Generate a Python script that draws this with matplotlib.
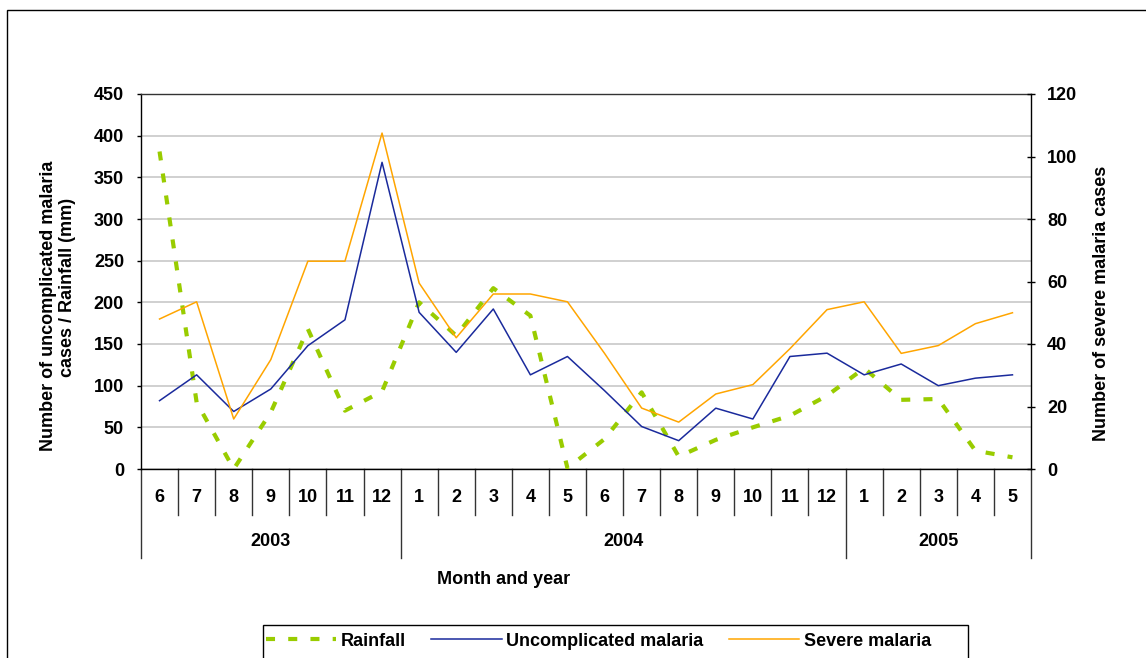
import matplotlib
matplotlib.use("Agg")
import matplotlib.pyplot as plt
from matplotlib.patches import Rectangle

plt.rcParams["font.family"] = ["Liberation Sans", "DejaVu Sans"]
plt.rcParams["font.weight"] = "bold"
plt.rcParams["lines.scale_dashes"] = False

# ---------------------------------------------------------------------
# Data
# ---------------------------------------------------------------------
MONTHS = [6, 7, 8, 9, 10, 11, 12, 1, 2, 3, 4, 5, 6, 7, 8, 9, 10, 11, 12, 1, 2, 3, 4, 5]
YEARS = ["2003", "2004", "2005"]
YEAR_SPANS = [7, 12, 5]
RAINFALL = [381, 80, 0, 68, 168, 70, 93, 200, 160, 217, 184, 1,
            36, 92, 15, 35, 50, 64, 88, 121, 83, 84, 22, 14]
UNCOMPLICATED = [82, 113, 69, 96, 148, 179, 368, 188, 140, 192, 113, 135,
                 94, 51, 34, 73, 60, 135, 139, 113, 126, 100, 109, 113]
SEVERE = [48, 53.5, 16, 35, 66.5, 66.5, 107.5, 59.5, 42, 56, 56, 53.5,
          37, 19.5, 15, 24, 27, 38.5, 51, 53.5, 37, 39.5, 46.5, 50]

GREEN = "#99CC00"
BLUE = "#1A2A9C"
ORANGE = "#FFA500"

W, H = 1146, 658
FS = 13

# ---------------------------------------------------------------------
fig = plt.figure(figsize=(W / 100, H / 100), dpi=100)
ax = fig.add_axes([141 / W, 1 - 469 / H, 890 / W, 375 / H])
ax2 = ax.twinx()

x = list(range(len(MONTHS)))
l1, = ax.plot(x, RAINFALL, color=GREEN, lw=3, linestyle=(0, (6.5, 9.5)),
              dash_capstyle="butt", label="Rainfall", zorder=3)
l2, = ax.plot(x, UNCOMPLICATED, color=BLUE, lw=1.1, label="Uncomplicated malaria", zorder=4)
l3, = ax2.plot(x, SEVERE, color=ORANGE, lw=1.1, label="Severe malaria")

ax.set_xlim(-0.5, len(MONTHS) - 0.5)
ax.set_ylim(0, 450)
ax.set_yticks(range(0, 451, 50))
ax2.set_ylim(0, 120)
ax2.set_yticks(range(0, 121, 20))
ax.set_xticks([])
ax.grid(axis="y", color="#C8C8C8", lw=1.2)
ax.set_axisbelow(True)

ax.tick_params(axis="y", direction="out", length=3, width=1, pad=9.2, labelsize=FS)
ax2.tick_params(axis="y", direction="inout", length=6, width=1, pad=8.6, labelsize=FS)

for s in ["left", "top", "bottom"]:
    ax2.spines[s].set_visible(False)
ax.spines["right"].set_visible(False)
ax.spines["top"].set_color("#333333")
for sp in [ax.spines["left"], ax.spines["bottom"], ax.spines["top"], ax2.spines["right"]]:
    sp.set_linewidth(1.0)

# --- two-level category axis ------------------------------------------
trans = ax.get_xaxis_transform()
year_edges = [-0.5]
for n in YEAR_SPANS:
    year_edges.append(year_edges[-1] + n)
for i in range(len(MONTHS) + 1):
    b = i - 0.5
    low = -0.2373 if b in year_edges else -0.1227
    ax.plot([b, b], [0, low], transform=trans, color="#333333", lw=1, clip_on=False)
for i, m in enumerate(MONTHS):
    ax.text(i, -0.0747, str(m), transform=trans, ha="center", va="center",
            fontsize=FS, weight="bold")
for k, yr in enumerate(YEARS):
    ax.text((year_edges[k] + year_edges[k + 1]) / 2, -0.192, yr, transform=trans,
            ha="center", va="center", fontsize=FS, weight="bold")

# --- axis titles -------------------------------------------------------
fig.text(49 / W, 1 - 306 / H, "Number of uncomplicated malaria", rotation=90,
         ha="center", va="center", fontsize=FS, weight="bold")
fig.text(67 / W, 1 - 287 / H, "cases / Rainfall (mm)", rotation=90,
         ha="center", va="center", fontsize=FS, weight="bold")
fig.text(1101 / W, 1 - 303 / H, "Number of severe malaria cases", rotation=90,
         ha="center", va="center", fontsize=FS, weight="bold")
fig.text(504 / W, 1 - 580 / H, "Month and year", ha="center", va="center",
         fontsize=FS, weight="bold")

# --- legend (box drawn separately, it runs off the bottom edge) ---------
leg = fig.legend([l1, l2, l3], [l.get_label() for l in [l1, l2, l3]],
                 loc="center left", bbox_to_anchor=(266 / W, 1 - 641 / H),
                 ncol=3, frameon=False, prop={"size": FS, "weight": "bold"},
                 handlelength=3.9, handletextpad=0.25, columnspacing=1.4,
                 borderaxespad=0, borderpad=0)
fig.add_artist(Rectangle((263 / W, -0.1), 705 / W, 0.1 + 1 - 625 / H,
                         transform=fig.transFigure, fill=False, ec="black", lw=1))

# outer chart frame (runs off the right and bottom edges)
fig.add_artist(Rectangle((7 / W, -0.5), 2, 1 - 10 / H + 0.5, transform=fig.transFigure,
                         fill=False, ec="black", lw=1))

fig.savefig("out.png", dpi=100)
